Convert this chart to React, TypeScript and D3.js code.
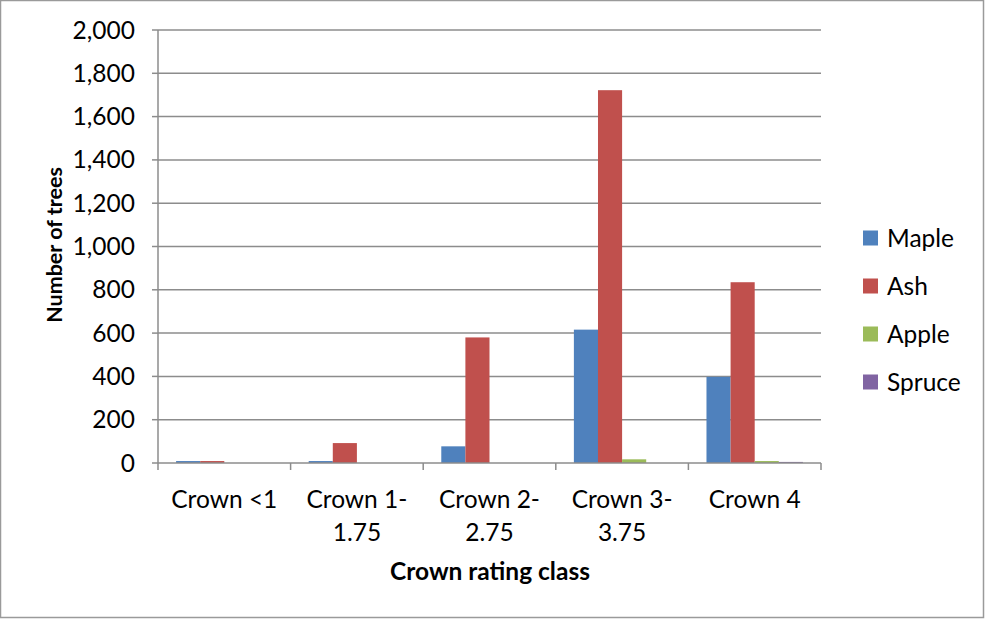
import React from "react";
import * as d3 from "d3";

const categories: string[][] = [
  ["Crown <1"],
  ["Crown 1-", "1.75"],
  ["Crown 2-", "2.75"],
  ["Crown 3-", "3.75"],
  ["Crown 4"],
];
const categoryKeys = ["c1", "c2", "c3", "c4", "c5"];
const seriesNames = ["Maple", "Ash", "Apple", "Spruce"];
const maple = [9, 9, 77, 616, 398];
const ash = [9, 92, 580, 1722, 835];
const apple = [0, 0, 0, 17, 9];
const spruce = [0, 0, 0, 0, 5];
const seriesValues = [maple, ash, apple, spruce];
const colors = ["#4F81BD", "#C0504D", "#9BBB59", "#8064A2"];
const yTicks = [0, 200, 400, 600, 800, 1000, 1200, 1400, 1600, 1800, 2000];

const W = 985;
const H = 619;
const left = 158;
const right = 821;
const top = 30;
const bottom = 463;
const FONT = "Lato, 'Open Sans', sans-serif";
const FS = 24.5;

export default function App() {
  const x = d3.scaleBand<string>().domain(categoryKeys).range([left, right]).padding(0);
  const inner = d3
    .scaleBand<string>()
    .domain(seriesNames)
    .range([0, x.bandwidth()])
    .paddingInner(0)
    .paddingOuter(0.75);
  const y = d3.scaleLinear().domain([0, 2000]).range([bottom, top]);
  const fmt = d3.format(",");
  const grid = "#8c8c8c";

  const boundaries = categoryKeys.map((k) => x(k)!).concat([right]);

  return (
    <svg
      width={W}
      height={H}
      style={{ position: "absolute", left: 0, top: 0, background: "#fff" }}
      fontFamily={FONT}
    >
      <rect x={0.5} y={0.5} width={W - 2} height={H - 2} fill="#fff" stroke="#9a9a9a" strokeWidth={1.5} />
      {yTicks.map((t) => (
        <g key={t}>
          {t > 0 && (
            <line x1={left} x2={right} y1={y(t)} y2={y(t)} stroke={grid} strokeWidth={1.5} />
          )}
          <line x1={left - 6} x2={left} y1={y(t)} y2={y(t)} stroke={grid} strokeWidth={1.5} />
          <text x={135} y={y(t) + 0.35 * FS} textAnchor="end" fontSize={FS} fill="#000">
            {fmt(t)}
          </text>
        </g>
      ))}
      {seriesValues.map((vals, si) =>
        vals.map((v, ci) => {
          const bx = x(categoryKeys[ci])! + inner(seriesNames[si])!;
          return (
            <rect
              key={`${si}-${ci}`}
              x={bx}
              y={y(v)}
              width={inner.bandwidth()}
              height={bottom - y(v)}
              fill={colors[si]}
            />
          );
        })
      )}
      <line x1={left} x2={left} y1={top} y2={bottom} stroke={grid} strokeWidth={1.5} />
      <line x1={left} x2={right} y1={bottom} y2={bottom} stroke={grid} strokeWidth={1.5} />
      {boundaries.map((bx, i) => (
        <line key={i} x1={bx} x2={bx} y1={bottom} y2={bottom + 7} stroke={grid} strokeWidth={1.5} />
      ))}
      {categories.map((lines, ci) => (
        <text key={ci} textAnchor="middle" fontSize={FS} fill="#000">
          {lines.map((l, li) => (
            <tspan key={li} x={x(categoryKeys[ci])! + x.bandwidth() / 2} y={508 + li * 32.5}>
              {l}
            </tspan>
          ))}
        </text>
      ))}
      <text x={490} y={580} textAnchor="middle" fontSize={24.5} fontWeight="bold" fill="#000">
        Crown rating class
      </text>
      <text
        transform={`translate(62,245) rotate(-90)`}
        textAnchor="middle"
        fontSize={21.5}
        fontWeight="bold"
        fill="#000"
      >
        Number of trees
      </text>
      {seriesNames.map((s, i) => (
        <g key={s} transform={`translate(863,${238 + i * 48})`}>
          <rect x={0} y={-7.5} width={15} height={15} fill={colors[i]} />
          <text x={24} y={0.36 * FS} fontSize={FS} fill="#000">
            {s}
          </text>
        </g>
      ))}
    </svg>
  );
}
